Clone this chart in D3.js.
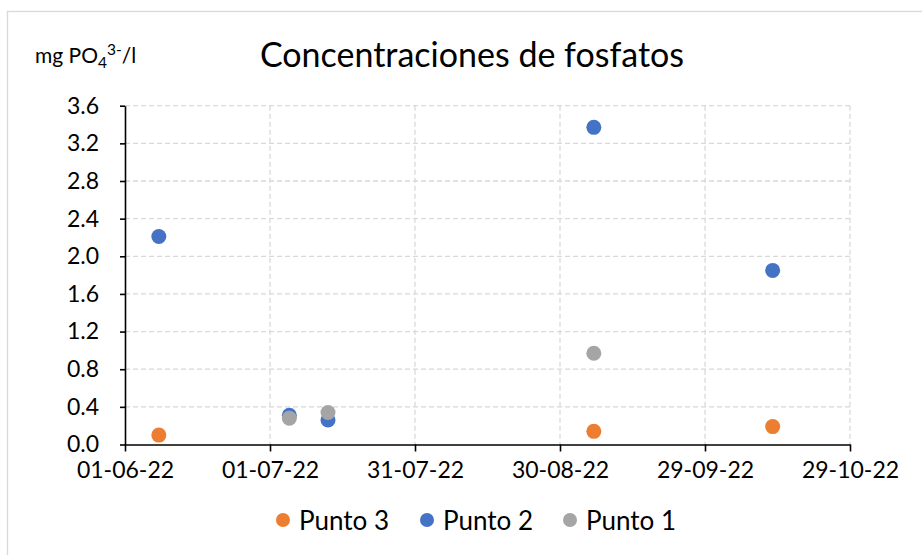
<!DOCTYPE html>
<html>
<head>
<meta charset="utf-8">
<script src="https://cdn.jsdelivr.net/npm/d3@7"></script>
<style>
  html, body { margin: 0; padding: 0; background: #fff; }
  svg { display: block; font-family: Lato, "Open Sans", sans-serif; }
</style>
</head>
<body>
<svg id="chart" width="922" height="555"></svg>
<script>
// Sampling dates and phosphate concentrations (mg PO4 3-/l) per sampling point
const punto3Dates  = ["2022-06-08", "2022-09-06", "2022-10-13"];
const punto3Values = [0.10, 0.14, 0.19];

const punto2Dates  = ["2022-06-08", "2022-07-05", "2022-07-13", "2022-09-06", "2022-10-13"];
const punto2Values = [2.21, 0.31, 0.26, 3.37, 1.85];

const punto1Dates  = ["2022-07-05", "2022-07-13", "2022-09-06"];
const punto1Values = [0.28, 0.34, 0.97];

const seriesNames  = ["Punto 3", "Punto 2", "Punto 1"];
const seriesColors = ["#ED7D31", "#4472C4", "#A5A5A5"];

const xTickDates = ["2022-06-01", "2022-07-01", "2022-07-31", "2022-08-30", "2022-09-29", "2022-10-29"];
const yTickValues = [0, 0.4, 0.8, 1.2, 1.6, 2.0, 2.4, 2.8, 3.2, 3.6];

const parse = d3.utcParse("%Y-%m-%d");
const fmtDate = d3.utcFormat("%d-%m-%y");

const series = [
  { name: seriesNames[0], color: seriesColors[0], pts: punto3Dates.map((d, i) => ({ date: parse(d), value: punto3Values[i] })) },
  { name: seriesNames[1], color: seriesColors[1], pts: punto2Dates.map((d, i) => ({ date: parse(d), value: punto2Values[i] })) },
  { name: seriesNames[2], color: seriesColors[2], pts: punto1Dates.map((d, i) => ({ date: parse(d), value: punto1Values[i] })) }
];

const svg = d3.select("#chart");
const plot = { left: 125, right: 850, top: 105.7, bottom: 444.5 };

const xTicks = xTickDates.map(parse);
const x = d3.scaleUtc()
  .domain([xTicks[0], xTicks[xTicks.length - 1]])
  .range([plot.left, plot.right]);
const y = d3.scaleLinear()
  .domain([0, 3.6])
  .range([plot.bottom, plot.top]);

// Chart frame
svg.append("rect")
  .attr("x", 7.5).attr("y", 11.5)
  .attr("width", 1000).attr("height", 1000)
  .attr("fill", "none").attr("stroke", "#d9d9d9").attr("stroke-width", 1.3);

// Dashed gridlines
const grid = svg.append("g").attr("stroke", "#d9d9d9").attr("stroke-width", 1.3)
  .attr("stroke-dasharray", "5,3");
grid.selectAll("line.h").data(yTickValues.filter(v => v > 0)).join("line")
  .attr("class", "h")
  .attr("x1", plot.left).attr("x2", plot.right)
  .attr("y1", d => y(d)).attr("y2", d => y(d));
grid.selectAll("line.v").data(xTicks.slice(1)).join("line")
  .attr("class", "v")
  .attr("x1", d => x(d)).attr("x2", d => x(d))
  .attr("y1", plot.top).attr("y2", plot.bottom);

// Axes
const xAxis = svg.append("g")
  .attr("transform", `translate(0,${plot.bottom})`)
  .call(d3.axisBottom(x).tickValues(xTicks).tickFormat(fmtDate).tickSizeInner(7).tickSizeOuter(0).tickPadding(10));
xAxis.select(".domain").attr("stroke", "#000").attr("stroke-width", 1.6);
xAxis.selectAll(".tick line").attr("stroke", "#000").attr("stroke-width", 1.6);
xAxis.selectAll(".tick text")
  .attr("font-size", 23).attr("fill", "#000")
  .attr("font-family", "Lato, sans-serif");

const yAxis = svg.append("g")
  .attr("transform", `translate(${plot.left},0)`)
  .call(d3.axisLeft(y).tickValues(yTickValues).tickFormat(d3.format(".1f")).tickSizeInner(5).tickSizeOuter(0).tickPadding(21));
yAxis.select(".domain").attr("stroke", "#000").attr("stroke-width", 1.6);
yAxis.selectAll(".tick line").attr("stroke", "#000").attr("stroke-width", 1.6);
yAxis.selectAll(".tick text")
  .attr("font-size", 23).attr("fill", "#000")
  .attr("font-family", "Lato, sans-serif");

// Markers
svg.append("g").selectAll("g").data(series).join("g")
  .attr("fill", d => d.color)
  .selectAll("circle").data(d => d.pts).join("circle")
  .attr("cx", d => x(d.date))
  .attr("cy", d => y(d.value))
  .attr("r", 7.5);

// Title
svg.append("text")
  .attr("x", 472).attr("y", 66.5)
  .attr("text-anchor", "middle")
  .attr("font-size", 34).attr("fill", "#000")
  .text("Concentraciones de fosfatos");

// Unit label with subscript and superscript
const unit = svg.append("text")
  .attr("x", 35).attr("y", 62.5)
  .attr("font-size", 21).attr("fill", "#000");
unit.append("tspan").text("mg PO");
unit.append("tspan").attr("font-size", 15.5).attr("dy", 5).text("4");
unit.append("tspan").attr("font-size", 15.5).attr("dy", -12.5).text("3-");
unit.append("tspan").attr("dy", 7.5).text("/l");

// Legend
const legendItems = [
  { name: seriesNames[0], color: seriesColors[0], cx: 283 },
  { name: seriesNames[1], color: seriesColors[1], cx: 427 },
  { name: seriesNames[2], color: seriesColors[2], cx: 570 }
];
const legend = svg.append("g");
const li = legend.selectAll("g").data(legendItems).join("g");
li.append("circle")
  .attr("cx", d => d.cx).attr("cy", 520)
  .attr("r", 7).attr("fill", d => d.color);
li.append("text")
  .attr("x", d => d.cx + 16).attr("y", 529.5)
  .attr("font-size", 26).attr("fill", "#000")
  .text(d => d.name);
</script>
</body>
</html>
